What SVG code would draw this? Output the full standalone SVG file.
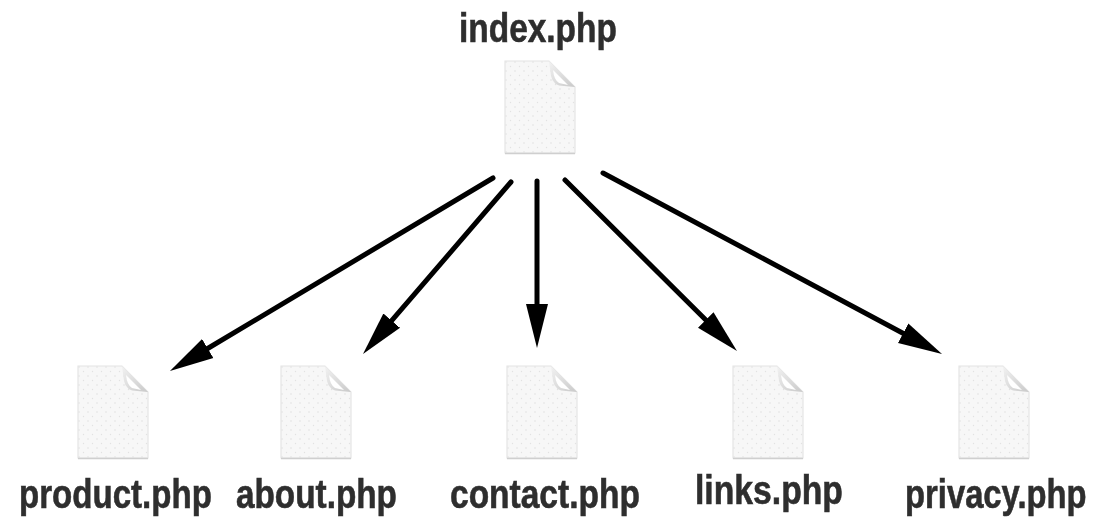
<svg xmlns="http://www.w3.org/2000/svg" width="1097" height="521" viewBox="0 0 1097 521">
<style>
text{font-family:"Liberation Sans",Arial,sans-serif;font-weight:bold;font-size:40px;fill:#2e2e2e;stroke:#2e2e2e;stroke-width:.6px;text-anchor:start}
.arrow{fill:none;stroke:#000;stroke-width:5;stroke-linecap:round;marker-end:url(#head)}
.soft{filter:url(#soft)}
</style>
<defs>
<filter id="soft" x="-5%" y="-20%" width="110%" height="140%"><feGaussianBlur stdDeviation="0.6"/></filter>
<marker id="head" markerUnits="userSpaceOnUse" markerWidth="46" markerHeight="24" viewBox="0 -12 46 24" refX="4" refY="0" orient="auto"><path d="M0,-11 L44,0 L0,11 Z" fill="#000"/></marker>
<pattern id="dots" width="9" height="9" patternUnits="userSpaceOnUse"><rect width="9" height="9" fill="#f7f7f7"/><circle cx="2" cy="2" r=".7" fill="#dcdcdc"/><circle cx="6.500" cy="6.500" r=".7" fill="#e2e2e2"/></pattern>
<linearGradient id="foldShade" x1="0" y1="0" x2="1" y2="1"><stop offset="0" stop-color="#f2f2f2"/><stop offset="1" stop-color="#c9c9c9"/></linearGradient>
<g id="page" class="soft">
<path d="M1,93 H71 V27 L45,1 H1 Z" fill="url(#dots)" stroke="#e4e4e4" stroke-width="1.200"/>
<path d="M1,93.500 H71" stroke="#cfcfcf" stroke-width="1.500"/>
<path d="M45,1 L71,27 L60,26 Q49,26 47,16 Z" fill="url(#foldShade)"/>
<path d="M49,10 L64,25 L55,23 Q50,20 49,10 Z" fill="#fff"/>
</g>
</defs>
<g id="connectors">
<line class="arrow" x1="493" y1="178" x2="204.300" y2="350.500"/>
<line class="arrow" x1="511" y1="182" x2="389.100" y2="323.700"/>
<line class="arrow" x1="537" y1="181" x2="537" y2="308"/>
<line class="arrow" x1="565" y1="180" x2="708.600" y2="322.800"/>
<line class="arrow" x1="603" y1="173" x2="906.700" y2="335.200"/>
</g>
<g id="index"><use href="#page" x="504" y="60"/><text class="soft" transform="translate(459,42) scale(.836,1)">index.php</text></g>
<g id="product"><use href="#page" x="77" y="365"/><text class="soft" transform="translate(19,508) scale(.827,1)">product.php</text></g>
<g id="about"><use href="#page" x="280" y="365"/><text class="soft" transform="translate(236,508) scale(.833,1)">about.php</text></g>
<g id="contact"><use href="#page" x="506" y="365"/><text class="soft" transform="translate(450,508) scale(.838,1)">contact.php</text></g>
<g id="links"><use href="#page" x="732" y="365"/><text class="soft" transform="translate(695,504) scale(.843,1)">links.php</text></g>
<g id="privacy"><use href="#page" x="958" y="365"/><text class="soft" transform="translate(905,508) scale(.82,1)">privacy.php</text></g>
</svg>
